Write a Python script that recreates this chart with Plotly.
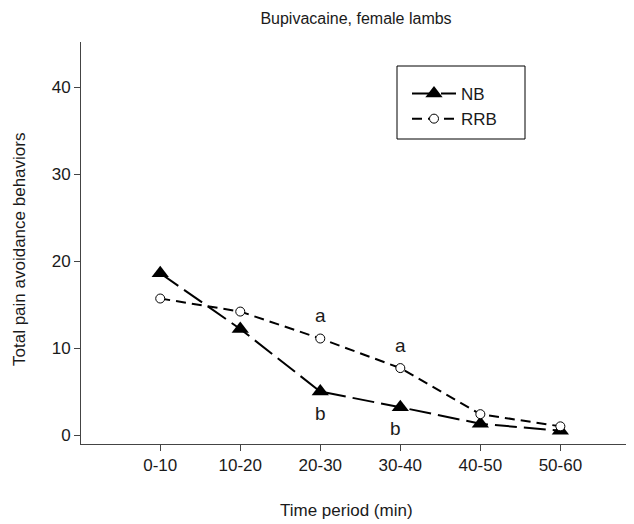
import plotly.graph_objects as go

categories = ["0-10", "10-20", "20-30", "30-40", "40-50", "50-60"]
nb_values = [18.6, 12.2, 5.0, 3.2, 1.3, 0.5]
rrb_values = [15.7, 14.2, 11.1, 7.7, 2.4, 1.0]
y_ticks = [0, 10, 20, 30, 40]

x_pos = list(range(1, len(categories) + 1))
FONT = "Liberation Sans, Arial, sans-serif"
TXT = "#1a1a1a"

# The page body has an 8px margin; work in window pixels and subtract it.
O = 8
W, H = 634 - O, 524 - O
L, R, T, B = 81 - O, 630 - O, 42 - O, 444 - O

pw, ph = R - L, B - T
def px(x):
    return (x - O - L) / pw
def py(y):
    return (B - (y - O)) / ph

fig = go.Figure()
fig.add_trace(go.Scatter(
    x=x_pos, y=nb_values, name="NB", mode="lines+markers",
    line=dict(color="black", width=2, dash="22px,7px"),
    marker=dict(symbol="triangle-up", size=15, color="black", line=dict(width=0)),
))
fig.add_trace(go.Scatter(
    x=x_pos, y=rrb_values, name="RRB", mode="lines+markers",
    line=dict(color="black", width=2, dash="10px,6px"),
    marker=dict(symbol="circle", size=9, color="white", line=dict(color="black", width=1)),
))

# significance letters
letters = [
    (3, rrb_values[2], "a", 0, 23),
    (4, rrb_values[3], "a", 0, 23),
    (3, nb_values[2], "b", 0, -22),
    (4, nb_values[3], "b", -5, -21),
]
for xx, yy, t, xs, ys in letters:
    fig.add_annotation(x=xx, y=yy, text=t, showarrow=False, xshift=xs, yshift=ys,
                       font=dict(family=FONT, size=19, color=TXT))

# axis titles
fig.add_annotation(x=px(346), y=py(510), xref="paper", yref="paper",
                   text="Time period (min)", showarrow=False,
                   xanchor="center", yanchor="middle",
                   font=dict(family=FONT, size=17, color=TXT))
fig.add_annotation(x=px(19), y=py(250), xref="paper", yref="paper",
                   text="Total pain avoidance behaviors", showarrow=False, textangle=-90,
                   xanchor="center", yanchor="middle",
                   font=dict(family=FONT, size=17, color=TXT))

# legend box
fig.add_shape(type="rect", xref="paper", yref="paper",
              x0=px(397), x1=px(525), y0=py(139), y1=py(66),
              line=dict(color="black", width=1))

fig.update_layout(
    width=W, height=H,
    margin=dict(l=L, r=W - R, t=T, b=H - B),
    paper_bgcolor="white", plot_bgcolor="white",
    font=dict(family=FONT, size=17, color=TXT),
    title=dict(text="Bupivacaine, female lambs", x=(356 - O) / W, xanchor="center",
               y=1 - (18 - O) / H, yanchor="middle", font=dict(size=16, color=TXT)),
    showlegend=True,
    legend=dict(x=px(407), y=py(76), xanchor="left", yanchor="top",
                bgcolor="rgba(0,0,0,0)", borderwidth=0,
                font=dict(size=17, color=TXT), itemwidth=44, tracegroupgap=0),
)
fig.update_xaxes(
    range=[0.01, 6.87], tickmode="array", tickvals=x_pos, ticktext=categories,
    showline=True, linecolor="#444", linewidth=1, ticks="outside", ticklen=6,
    tickcolor="#444", showgrid=False, zeroline=False, automargin=False,
)
fig.update_yaxes(
    range=[-1.03, 45.2], tickmode="array", tickvals=y_ticks,
    showline=True, linecolor="#444", linewidth=1, ticks="outside", ticklen=6,
    tickcolor="#444", showgrid=False, zeroline=False, automargin=False,
)

fig.write_html("out.html")
